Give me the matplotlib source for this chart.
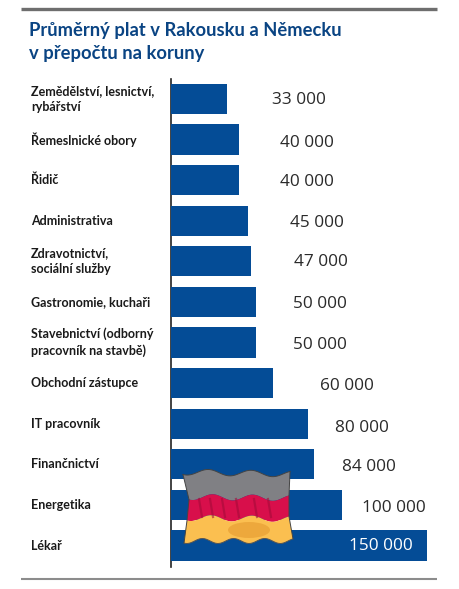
import matplotlib
matplotlib.use('Agg')
import matplotlib.pyplot as plt
from matplotlib.patches import Polygon, Ellipse
import numpy as np

# Data
categories = ['Zemědělství, lesnictví,\nrybářství', 'Řemeslnické obory', 'Řidič',
              'Administrativa', 'Zdravotnictví,\nsociální služby', 'Gastronomie, kuchaři',
              'Stavebnictví (odborný\npracovník na stavbě)', 'Obchodní zástupce',
              'IT pracovník', 'Finančnictví', 'Energetika', 'Lékař']
salaries = [33000, 40000, 40000, 45000, 47000, 50000, 50000, 60000, 80000, 84000, 100000, 150000]
value_labels = ['33 000', '40 000', '40 000', '45 000', '47 000', '50 000', '50 000',
                '60 000', '80 000', '84 000', '100 000', '150 000']
title = 'Průměrný plat v Rakousku a Německu\nv přepočtu na koruny'

# where each value label sits (pixels), they are placed by hand in the original
label_x = [299, 307, 307, 317, 321, 320, 320, 347, 362, 369, 394, 381]
label_y = [99, 142, 181, 222, 261, 303, 344, 385, 427, 466, 507, 545]

W, H = 460, 589
BLUE = '#044c96'
GREY = '#8c8c8c'

fig = plt.figure(figsize=(W / 100, H / 100), dpi=100)
bg = fig.add_axes([0, 0, 1, 1])
bg.set_xlim(0, W)
bg.set_ylim(H, 0)
bg.axis('off')

# bars axes, 1000 Kc = 1.707 px
ax = fig.add_axes([171 / W, 1 - 567 / H, 256 / W, (567 - 79) / H])
y = np.arange(len(salaries))
ax.barh(y, salaries, height=0.74, color=BLUE)
ax.set_xlim(0, 150000)
ax.set_ylim(11.53, -0.49)
ax.axis('off')
ax.patch.set_alpha(0)

bg.plot([171, 171], [79, 567], color='#222222', lw=1.2, zorder=1)
bg.plot([21, 437], [9, 9], color='#6e6e6e', lw=2.4, solid_capstyle='butt')
bg.plot([21, 437], [578.5, 578.5], color=GREY, lw=1.5, solid_capstyle='butt')

bg.text(29, 42, title, color='#0a4483', fontsize=13.2, fontweight='bold',
        family='Lato', va='center', ha='left', linespacing=1.4)

for i, cat in enumerate(categories):
    cy = 99 + 40.6 * i
    bg.text(31, cy, cat, fontsize=9, fontweight='bold', family='Lato',
            color='#1a1a1a', va='center', ha='left', linespacing=1.4)

# flag
t = np.linspace(0, 1, 60)
top = 472 + 3 * np.sin(t * 2 * np.pi * 2.5 + 1) + 2 * t
mid1 = 497 + 3 * np.sin(t * 2 * np.pi * 2.5 + 1) + 1 * t
mid2 = 518 + 3 * np.sin(t * 2 * np.pi * 2.5 + 1) + 1 * t
bot = 541 + 2.5 * np.sin(t * 2 * np.pi * 3.5 + 1)
flag = fig.add_axes([0, 0, 1, 1])
flag.set_xlim(0, W)
flag.set_ylim(H, 0)
flag.axis('off')
flag.patch.set_alpha(0)


def band(y0, y1, x0a, x1a, x0b, x1b, color):
    xs0 = x0a + (x1a - x0a) * t
    xs1 = x0b + (x1b - x0b) * t
    pts = np.vstack([np.column_stack([xs0, y0]), np.column_stack([xs1, y1])[::-1]])
    flag.add_patch(Polygon(pts, closed=True, facecolor=color, edgecolor='none'))


band(top, mid1, 183, 290, 189, 289, '#808084')
band(mid1, mid2, 189, 289, 187, 289, '#d80f4b')
band(mid2, bot, 187, 289, 184, 293, '#fbbf50')
# folds in the cloth
for fx in [199, 210, 222, 236, 254, 268]:
    flag.plot([fx, fx + 3], [499, 517], color='#a00a38', lw=1.6, alpha=0.55)
flag.add_patch(Ellipse((249, 530), 42, 16, facecolor='#e59a30', edgecolor='none', alpha=0.6))
flag.plot(183 + 107 * t, top, color='#444444', lw=0.7)
flag.plot(184 + 109 * t, bot, color='#555555', lw=0.7)
flag.plot([183, 189, 187, 184], [top[0], mid1[0], mid2[0], bot[0]], color='#444444', lw=0.7)
flag.plot([290, 289, 289, 293], [top[-1], mid1[-1], mid2[-1], bot[-1]], color='#444444', lw=0.7)

for i, lab in enumerate(value_labels):
    col = 'white' if salaries[i] == max(salaries) else '#2a2a2a'
    flag.text(label_x[i], label_y[i] + 1, lab, fontsize=12.4, family='Open Sans',
              color=col, va='center', ha='center')

fig.savefig('out.png', dpi=100)
